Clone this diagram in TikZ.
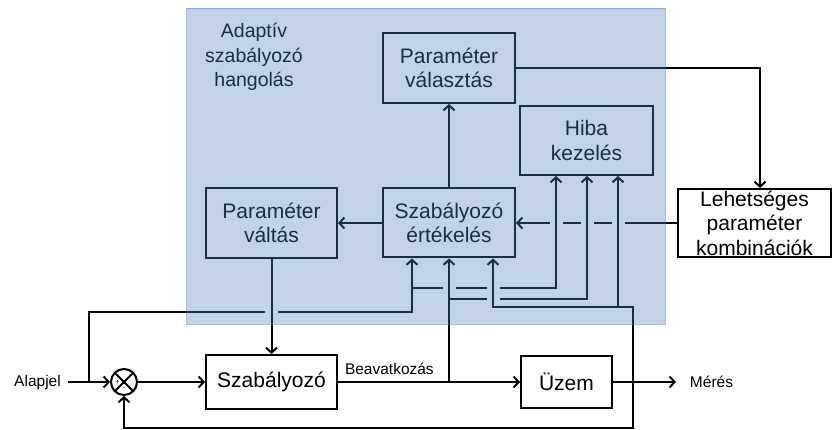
\documentclass[tikz,border=0pt]{standalone}
\usepackage{fontspec}
\setmainfont{Liberation Sans}
\usepackage{xcolor}
\usetikzlibrary{arrows.meta,calc}
\definecolor{hangkek}{RGB}{79,129,189}

\begin{document}
\begin{tikzpicture}[x=1pt, y=-1pt, line width=2pt,
    arr/.style={-{Straight Barb[length=5pt,width=11pt]}},
    doboz/.style={draw, inner sep=0pt, align=center, font=\fontsize{21}{24.5}\selectfont},
    felirat/.style={inner sep=6pt, font=\fontsize{15.5}{18}\selectfont},
    res/.style={draw=white, line width=13pt},
    osszeg/.style={draw, circle, minimum size=26pt, inner sep=0pt,
        path picture={\draw[line width=2pt] (path picture bounding box.north west) -- (path picture bounding box.south east)
            (path picture bounding box.north east) -- (path picture bounding box.south west);}}]
    \useasboundingbox (0,0) rectangle (833,430);
    \node[doboz, minimum width=132pt, minimum height=70pt] (valaszt) at (449,68) {Paraméter\\választás};
    \node[doboz, minimum width=133pt, minimum height=69pt] (hiba) at (586.5,140.5) {Hiba\\kezelés};
    \node[doboz, minimum width=132pt, minimum height=69pt] (ertekel) at (449,223) {Szabályozó\\értékelés};
    \node[doboz, minimum width=131pt, minimum height=70pt] (valtas) at (271.5,223) {Paraméter\\váltás};
    \node[doboz, minimum width=153pt, minimum height=68pt] (lehet) at (754.5,223) {Lehetséges\\paraméter\\kombinációk};
    \node[doboz, minimum width=131pt, minimum height=54pt] (szab) at (271.5,382) {Szabályozó};
    \node[doboz, minimum width=91pt, minimum height=52pt] (uzem) at (566.5,382) {Üzem};
    \node[osszeg] (ossz) at (124,382) {};
    \node[font=\fontsize{7}{7}\selectfont, inner sep=0pt] (plusz) at ([xshift=-6.5pt]ossz.center) {+};
    \node[font=\fontsize{7}{7}\selectfont, inner sep=0pt] (minusz) at ([yshift=-6.5pt]ossz.center) {-};
    \node[felirat] (alap) at (37.5,382) {Alapjel};
    \node[felirat] (meres) at (711.5,382) {Mérés};
    \node[felirat, anchor=south west] (beav) at (szab.east) {Beavatkozás};
    \node[font=\fontsize{19.5}{24.5}\selectfont, align=center, inner sep=0pt] (cim) at (254,57) {Adaptív\\szabályozó\\hangolás};

    \coordinate (a0) at (89,382);
    \coordinate (a1) at (412,312);
    \coordinate (a2) at (556,288);
    \coordinate (b0) at (449,382);
    \coordinate (b1) at (587,299);
    \coordinate (m0) at (633,382);
    \coordinate (m1) at (493,307);
    \coordinate (m2) at (618,307);
    \coordinate (fb) at (124,428);
    \coordinate (k1) at (760,68);

    \draw[arr] (lehet.west) -- (ertekel.east);
    \foreach \c in {a2,b1,m2}
        \draw[res] (\c |- ertekel.east) ++(0,-3) -- ++(0,6);
    \draw[arr] (a0) |- (a1) -- (ertekel.south -| a1);
    \draw[res] (valtas.south |- a1) ++(0,-3) -- ++(0,6);
    \draw[arr] (a1 |- a2) -- (a2) -- (hiba.south -| a2);
    \draw[arr] (b0 |- b1) -- (b1) -- (hiba.south -| b1);
    \foreach \c in {b0 |- a2, m1 |- a2, m1 |- b1}
        \draw[res] (\c) ++(0,-3) -- ++(0,6);

    \draw[arr] (valtas.south) -- (szab.north);
    \draw[arr] (b0) -- (ertekel.south -| b0);
    \draw[arr] (m0) |- (m1) -- (ertekel.south -| m1);
    \draw[arr] (m2) -- (hiba.south -| m2);
    \draw[arr] (m0) |- (fb) -- (ossz.south);
    \draw[arr] (alap) -- (ossz);
    \draw[arr] (ossz) -- (szab);
    \draw[arr] (szab) -- (uzem);
    \draw[arr, shorten >=7pt] (uzem) -- (meres);
    \draw[arr] (ertekel) -- (valtas);
    \draw[arr] (ertekel) -- (valaszt);
    \draw[arr] (valaszt.east) -- (k1) -- (lehet.north -| k1);

    \fill[hangkek, fill opacity=0.35] (186.5,8.5) rectangle (665,324.5);
    \draw[hangkek, draw opacity=0.5, line width=0.8pt] (186.5,8.5) rectangle (665,324.5);
\end{tikzpicture}
\end{document}
